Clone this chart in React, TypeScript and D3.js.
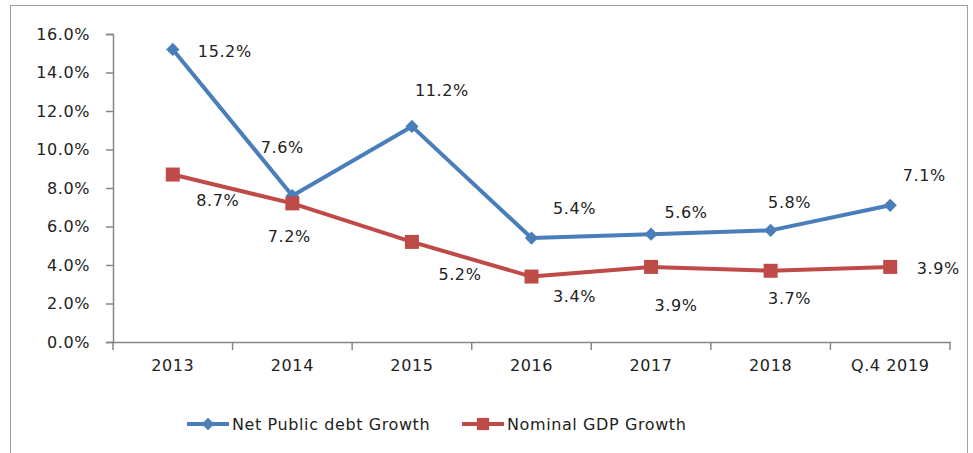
import { useEffect, useRef } from "react";
import * as d3 from "d3";

const categories = ["2013", "2014", "2015", "2016", "2017", "2018", "Q.4 2019"];
const debtGrowth = [15.2, 7.6, 11.2, 5.4, 5.6, 5.8, 7.1];
const gdpGrowth = [8.7, 7.2, 5.2, 3.4, 3.9, 3.7, 3.9];
const yTicks = [0, 2, 4, 6, 8, 10, 12, 14, 16];

// label offsets (px) relative to each point, as placed in the original
const debtLabelOffset = [
  [52, 2], [-10, -48], [30, -36], [43, -30], [35, -22], [19, -28], [34, -30],
];
const gdpLabelOffset = [
  [45, 26], [-3, 33], [48, 33], [43, 20], [25, 39], [19, 28], [48, 2],
];

const W = 973;
const H = 453;
const FONT = "'DejaVu Sans', Verdana, sans-serif";

export default function App() {
  const ref = useRef<SVGSVGElement>(null);

  useEffect(() => {
    const svg = d3.select(ref.current);
    svg.selectAll("*").remove();

    const left = 113;
    const right = 950;
    const top = 34;
    const bottom = 342;

    const x = d3.scaleBand().domain(categories).range([left, right]);
    const y = d3.scaleLinear().domain([0, 16]).range([bottom, top]);
    const cx = (c: string) => (x(c) as number) + x.bandwidth() / 2;

    // outer frame
    svg
      .append("rect")
      .attr("x", 10.5)
      .attr("y", 5.5)
      .attr("width", 957)
      .attr("height", 460)
      .attr("fill", "white")
      .attr("stroke", "#a0a0a0");

    const axisColor = "#868686";
    const styleText = (sel: any) =>
      sel
        .attr("fill", "#222")
        .style("font-family", FONT)
        .style("font-size", "16px")
        .style("letter-spacing", "0.6px");

    // y axis
    const yAxis = svg
      .append("g")
      .attr("transform", `translate(${left},0)`)
      .call(
        d3
          .axisLeft(y)
          .tickValues(yTicks)
          .tickSize(7)
          .tickPadding(16)
          .tickFormat((d) => `${(+d).toFixed(1)}%`)
      );
    yAxis.selectAll("path, line").attr("stroke", axisColor).attr("stroke-width", 1.5);
    styleText(yAxis.selectAll("text"));

    // x axis
    const xAxis = svg
      .append("g")
      .attr("transform", `translate(0,${bottom})`)
      .call(d3.axisBottom(x).tickSize(0).tickPadding(18).tickSizeOuter(0));
    xAxis.select("path").attr("stroke", axisColor).attr("stroke-width", 1.5);
    styleText(xAxis.selectAll("text"));
    // ticks between categories
    const edges = categories.map((c) => x(c) as number).concat([right]);
    xAxis
      .selectAll("line.edge")
      .data(edges)
      .join("line")
      .attr("class", "edge")
      .attr("x1", (d) => d)
      .attr("x2", (d) => d)
      .attr("y1", 0)
      .attr("y2", 8)
      .attr("stroke", axisColor)
      .attr("stroke-width", 1.5);

    // diamond = square turned 45 degrees
    const series = [
      { values: debtGrowth, color: "#4a7ebb", rot: 45, size: 88, offs: debtLabelOffset },
      { values: gdpGrowth, color: "#be4b48", rot: 0, size: 196, offs: gdpLabelOffset },
    ];

    series.forEach((s) => {
      const pts = s.values.map((v, i) => ({ c: categories[i], v, i }));
      const line = d3
        .line<{ c: string; v: number }>()
        .x((d) => cx(d.c))
        .y((d) => y(d.v));
      svg
        .append("path")
        .datum(pts)
        .attr("fill", "none")
        .attr("stroke", s.color)
        .attr("stroke-width", 4)
        .attr("stroke-linejoin", "round")
        .attr("d", line);
      svg
        .selectAll(null)
        .data(pts)
        .join("path")
        .attr("transform", (d) => `translate(${cx(d.c)},${y(d.v)}) rotate(${s.rot})`)
        .attr("d", d3.symbol().type(d3.symbolSquare).size(s.size)())
        .attr("fill", s.color);
      styleText(
        svg
          .selectAll(null)
          .data(pts)
          .join("text")
          .attr("x", (d) => cx(d.c) + s.offs[d.i][0])
          .attr("y", (d) => y(d.v) + s.offs[d.i][1])
          .attr("text-anchor", "middle")
          .attr("dominant-baseline", "central")
          .text((d) => `${d.v.toFixed(1)}%`)
      );
    });

    // legend
    const legend = [
      { label: "Net Public debt Growth", color: "#4a7ebb", rot: 45, size: 80, x: 187 },
      { label: "Nominal GDP Growth", color: "#be4b48", rot: 0, size: 150, x: 462 },
    ];
    const ly = 424;
    legend.forEach((l) => {
      const g = svg.append("g").attr("transform", `translate(${l.x},${ly})`);
      g.append("line")
        .attr("x1", 0)
        .attr("x2", 42)
        .attr("stroke", l.color)
        .attr("stroke-width", 4);
      g.append("path")
        .attr("transform", `translate(21,0) rotate(${l.rot})`)
        .attr("d", d3.symbol().type(d3.symbolSquare).size(l.size)())
        .attr("fill", l.color);
      styleText(
        g
          .append("text")
          .attr("x", 45)
          .attr("dominant-baseline", "central")
          .text(l.label)
      );
    });
  }, []);

  return (
    <svg
      ref={ref}
      width={W}
      height={H}
      style={{ position: "absolute", left: 0, top: 0, background: "white" }}
    />
  );
}
